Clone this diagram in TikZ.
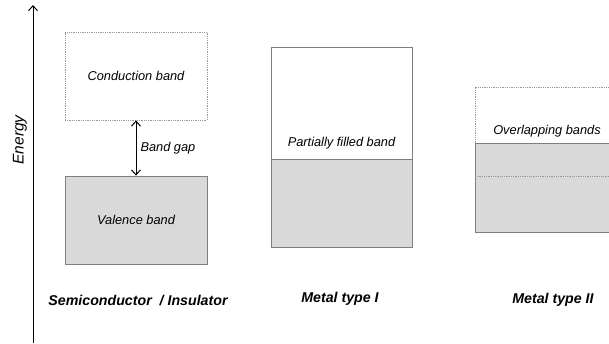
\documentclass[tikz,border=0pt]{standalone}
\usepackage{fontspec}
\setmainfont{Liberation Sans}
\usetikzlibrary{arrows.meta}
\definecolor{bandgray}{HTML}{D9D9D9}
\definecolor{edgegray}{HTML}{7F7F7F}
\tikzset{
 band/.style={draw=edgegray,line width=0.8pt,minimum width=142pt,inner sep=0pt},
 emptyband/.style={band,draw=edgegray!80,densely dotted},
 fullband/.style={band,fill=bandgray},
 bandlabel/.style={font=\fontsize{12.8}{14}\selectfont\itshape},
 kindlabel/.style={font=\fontsize{14.2}{16}\selectfont\bfseries\itshape},
 barb/.tip={Straight Barb[length=5pt,width=9pt,line width=1pt]}
}
\begin{document}
\begin{tikzpicture}[x=1pt,y=-1pt]
 \useasboundingbox (0,0) rectangle (609,343);
 \clip (0,0) rectangle (609,343);

 % energy axis
 \coordinate (e0) at (33,343);
 \coordinate (e1) at (33,5);
 \draw[line width=1pt,-barb] (e0) -- (e1);
 \node (energy) at (20,140) [rotate=90,font=\fontsize{15.5}{17}\selectfont\itshape] {Energy};

 % semiconductor / insulator
 \node (cb) at (136,76) [emptyband,minimum height=88pt] {};
 \node (vb) at (136,220) [fullband,minimum height=88pt] {};
 \node at (cb.center) [bandlabel] {Conduction band};
 \node at (vb.center) [bandlabel] {Valence band};
 \draw[line width=1pt,barb-barb] (cb.south) -- (vb.north) node (gap) [midway,right,bandlabel,inner sep=4pt] {Band gap};
 \node (semi) at (138,300) [kindlabel] {Semiconductor~~/ Insulator};

 % metal type I
 \node (pf) at (341.5,103) [band,minimum width=141pt,minimum height=112pt] {};
 \node (pff) at (341.5,203) [fullband,minimum width=141pt,minimum height=88pt] {};
 \node (pfl) at (341.5,143) [bandlabel] {Partially filled band};
 \node (m1) at (340,299) [kindlabel] {Metal type I};

 % metal type II
 \node (ov) at (547.5,115) [emptyband,minimum width=145pt,minimum height=56pt] {};
 \node (ovf) at (547.5,187.5) [fullband,minimum width=145pt,minimum height=89pt] {};
 \coordinate (ovl) at (475,176);
 \coordinate (ovr) at (620,176);
 \draw[draw=edgegray!80,densely dotted,line width=0.8pt] (ovl) -- (ovr);
 \node (ovt) at (547,131) [bandlabel] {Overlapping bands};
 \node (m2) at (553,300) [kindlabel] {Metal type II};
\end{tikzpicture}
\end{document}
